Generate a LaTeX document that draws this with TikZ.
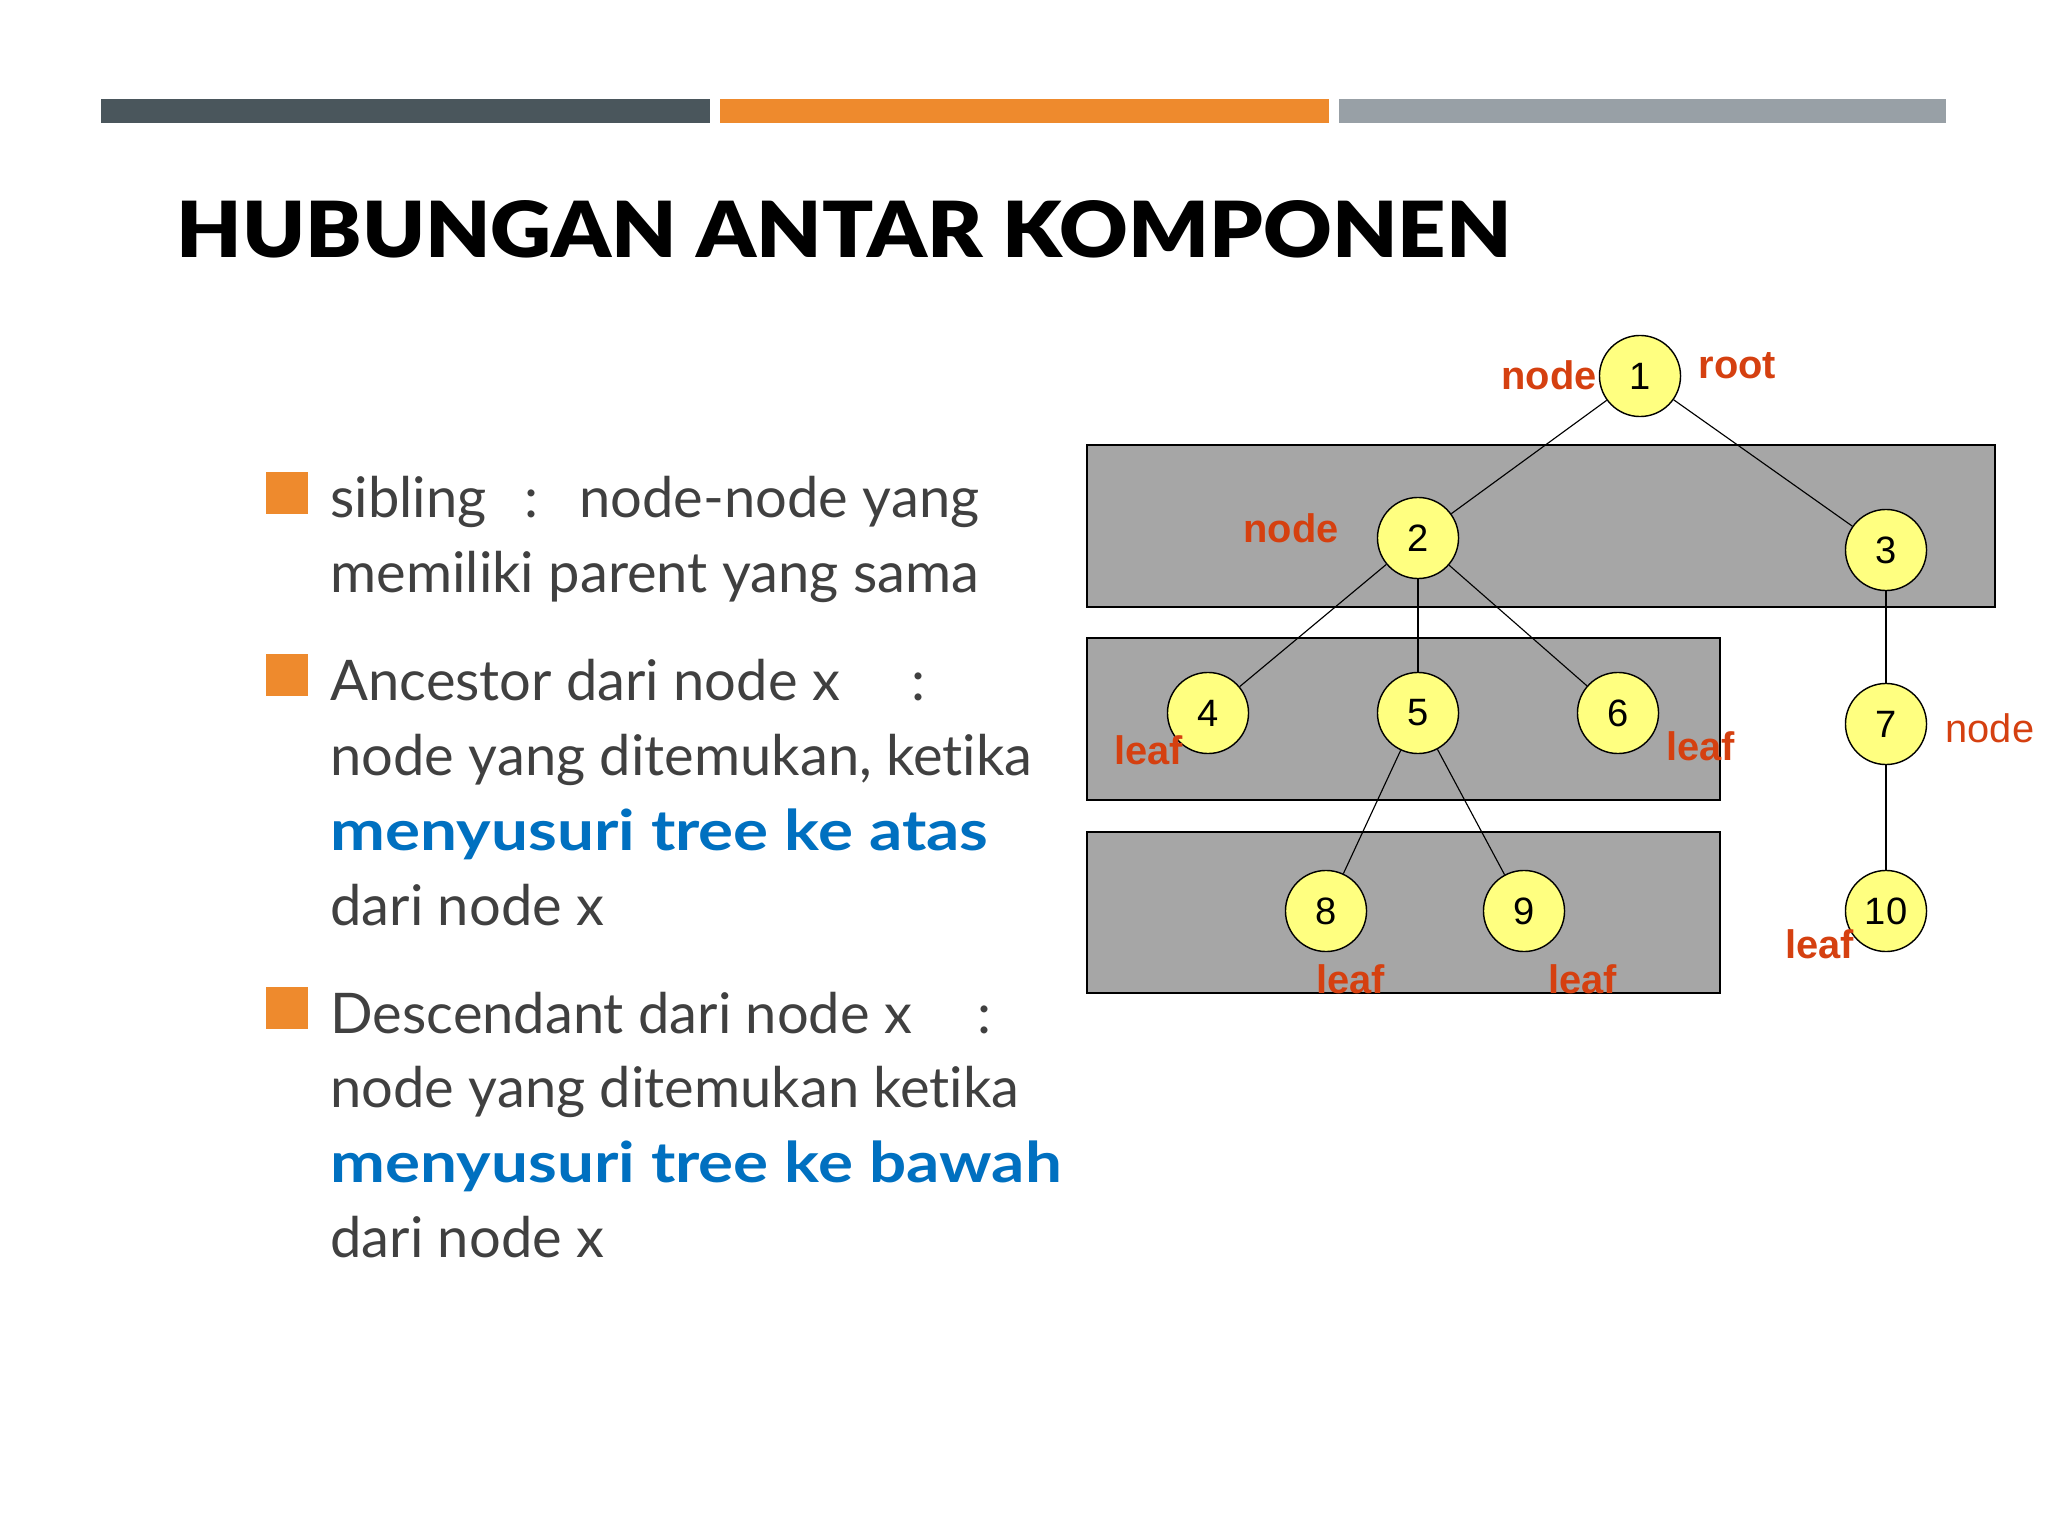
\documentclass[tikz,border=0pt]{standalone}
\usepackage{fontspec}
\setmainfont{Lato}[Ligatures=NoCommon]
\newfontfamily\titlefont{Lato Black}
\newfontfamily\arialf{Liberation Sans}
\newdimen\pxu \pxu=0.3515625pt
\definecolor{barA}{HTML}{4A565C}
\definecolor{barB}{HTML}{EE8A2D}
\definecolor{barC}{HTML}{98A0A6}
\definecolor{bodygray}{HTML}{404040}
\definecolor{blueemph}{HTML}{0070C0}
\definecolor{lblred}{RGB}{213,64,16}
\definecolor{nodeyellow}{HTML}{FFFF80}
\definecolor{boxgray}{HTML}{A6A6A6}
\begin{document}
\begin{tikzpicture}[x=0.3515625pt,y=-0.3515625pt,
  bodytext/.style={anchor=base west, inner sep=0pt, text=bodygray, font=\fontsize{19.7}{24}\selectfont},
  bluetext/.style={anchor=base west, inner sep=0pt, text=blueemph, font=\fontsize{19.7}{24}\selectfont\bfseries},
  titletext/.style={anchor=base west, inner sep=0pt, text=black, font=\titlefont\fontsize{26.7}{32}\selectfont},
  bulletsq/.style={fill=barB, draw=none, inner sep=0pt, minimum size=14.8pt, anchor=north west},
  treenode/.style={circle, draw=black, line width=0.5pt, fill=nodeyellow, minimum size=28.5pt, inner sep=0pt, font=\arialf\fontsize{13.4}{16}\selectfont},
  lbl/.style={anchor=base west, inner sep=0pt, text=lblred, font=\arialf\bfseries\fontsize{14}{16}\selectfont},
  lblreg/.style={anchor=base west, inner sep=0pt, text=lblred, font=\arialf\fontsize{14}{16}\selectfont},
  levelbox/.style={fill=boxgray, draw=black, line width=0.7pt},
  edge/.style={draw=black, line width=0.4pt}]
\useasboundingbox (0,0) rectangle (2048,1536);
% top bars
\fill[barA] (101,99) rectangle (710,123);
\fill[barB] (720,99) rectangle (1329,123);
\fill[barC] (1339,99) rectangle (1946,123);
% title
\node[titletext] (title) at (176,258) {\resizebox{1335\pxu}{57\pxu}{HUBUNGAN ANTAR KOMPONEN}};
% bullets
\node[bulletsq] (b1) at (265,471) {};
\node[bulletsq] (b2) at (265,653) {};
\node[bulletsq] (b3) at (265,986) {};
% body text
\node[bodytext] (t1) at (330,518) {\makebox[194\pxu][l]{sibling}:\hspace{41\pxu}node-node yang};
\node[bodytext] (t2) at (330,593) {memiliki parent yang sama};
\node[bodytext] (t3) at (330,700) {\makebox[581\pxu][l]{Ancestor dari node x}:};
\node[bodytext] (t4) at (330,775) {node yang ditemukan, ketika};
\node[bluetext] (t5) at (330,850) {\scalebox{1.17}[1]{menyusuri tree ke atas}};
\node[bodytext] (t6) at (330,925) {dari node x};
\node[bodytext] (t7) at (330,1033) {\makebox[647\pxu][l]{Descendant dari node x}:};
\node[bodytext] (t8) at (330,1107) {node yang ditemukan ketika};
\node[bluetext] (t9) at (330,1182) {\scalebox{1.17}[1]{menyusuri tree ke bawah}};
\node[bodytext] (t10) at (330,1257) {dari node x};
% level boxes
\draw[levelbox] (1087,445) rectangle (1995,607);
\draw[levelbox] (1087,638) rectangle (1720,800);
\draw[levelbox] (1087,832) rectangle (1720,993);
% tree nodes
\node[treenode] (n1) at (1640,376) {1};
\node[treenode] (n2) at (1418,538) {2};
\node[treenode] (n3) at (1886,550) {3};
\node[treenode] (n4) at (1208,713) {4};
\node[treenode] (n5) at (1418,713) {5};
\node[treenode] (n6) at (1618,713) {6};
\node[treenode] (n7) at (1886,724) {7};
\node[treenode] (n8) at (1326,911) {8};
\node[treenode] (n9) at (1524,911) {9};
\node[treenode] (n10) at (1886,911) {10};
% edges
\draw[edge] (n1) -- (n2);
\draw[edge] (n1) -- (n3);
\draw[edge] (n2) -- (n4);
\draw[edge] (n2) -- (n5);
\draw[edge] (n2) -- (n6);
\draw[edge] (n3) -- (n7);
\draw[edge] (n5) -- (n8);
\draw[edge] (n5) -- (n9);
\draw[edge] (n7) -- (n10);
% labels
\node[lbl] (l1) at (1501,390) {node};
\node[lbl] (l2) at (1698,379) {root};
\node[lbl] (l3) at (1243,543) {node};
\node[lbl] (l4) at (1114,764) {leaf};
\node[lbl] (l5) at (1666,760) {leaf};
\node[lblreg] (l6) at (1945,742) {node};
\node[lbl] (l7) at (1785,958) {leaf};
\node[lbl] (l8) at (1316,993) {leaf};
\node[lbl] (l9) at (1548,993) {leaf};
\end{tikzpicture}
\end{document}
